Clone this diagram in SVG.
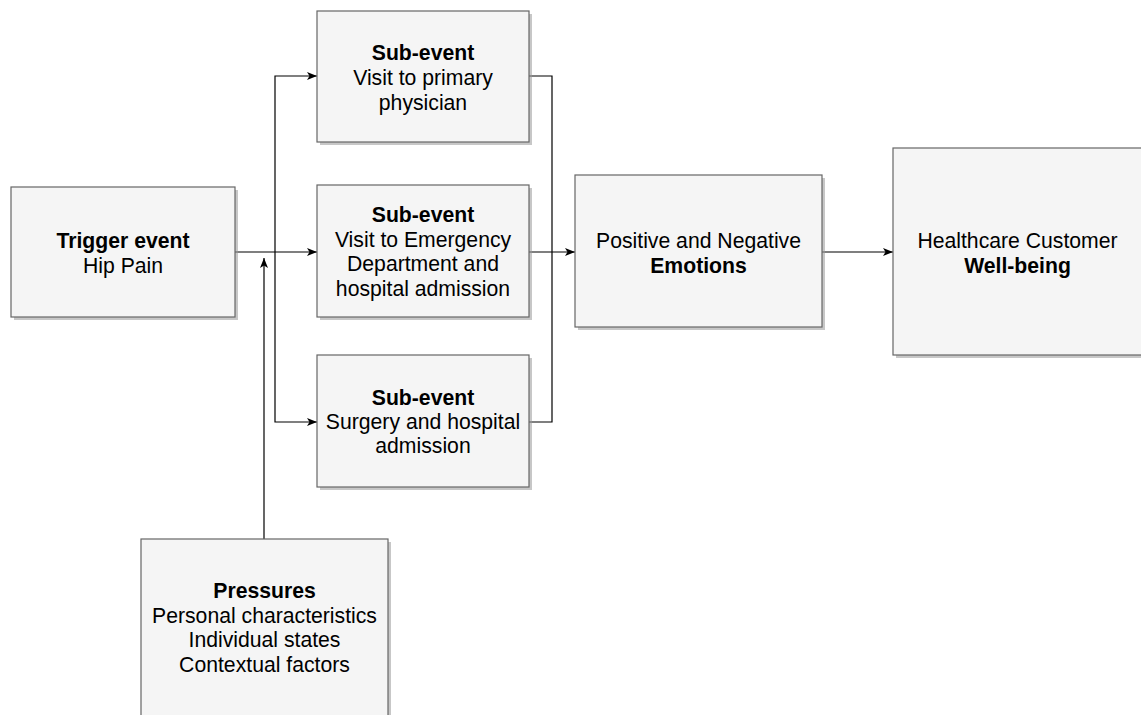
<svg xmlns="http://www.w3.org/2000/svg" width="1141" height="715" viewBox="0 0 1141 715">
<style>
.box{fill:#f5f5f5;stroke:#666666;stroke-width:1.2}
.sh{fill:#999999;opacity:0.55}
.t{font-family:"Liberation Sans",Arial,sans-serif;font-size:21.2px;fill:#000;text-anchor:middle}
.b{font-weight:bold}
.c{fill:none;stroke:#000;stroke-width:1.2}
</style>
<defs>
<marker id="ah" viewBox="0 0 10 8" refX="10" refY="4" markerWidth="10" markerHeight="8" markerUnits="userSpaceOnUse" orient="auto">
<path d="M0,0 L10,4 L0,8 L2.5,4 z" fill="#000"/>
</marker>
</defs>
<rect width="1141" height="715" fill="#ffffff"/>
<g id="connectors">
<path class="c" d="M235,252 L317,252" marker-end="url(#ah)"/>
<path class="c" d="M275,252 L275,76 L317,76" marker-end="url(#ah)"/>
<path class="c" d="M275,252 L275,422 L317,422" marker-end="url(#ah)"/>
<path class="c" d="M264,539 L264,258" marker-end="url(#ah)"/>
<path class="c" d="M529,76 L552,76 L552,422 L529,422"/>
<path class="c" d="M529,252 L575,252" marker-end="url(#ah)"/>
<path class="c" d="M822,252 L893,252" marker-end="url(#ah)"/>
</g>
<g id="trigger">
<rect class="sh" x="14" y="190" width="224" height="130"/>
<rect class="box" x="11" y="187" width="224" height="130"/>
<text class="t b" x="123" y="248">Trigger event</text>
<text class="t" x="123" y="273">Hip Pain</text>
</g>
<g id="sub1">
<rect class="sh" x="320" y="14" width="212" height="131"/>
<rect class="box" x="317" y="11" width="212" height="131"/>
<text class="t b" x="423" y="60">Sub-event</text>
<text class="t" x="423" y="85">Visit to primary</text>
<text class="t" x="423" y="110">physician</text>
</g>
<g id="sub2">
<rect class="sh" x="320" y="188" width="212" height="132"/>
<rect class="box" x="317" y="185" width="212" height="132"/>
<text class="t b" x="423" y="222">Sub-event</text>
<text class="t" x="423" y="246.5">Visit to Emergency</text>
<text class="t" x="423" y="271">Department and</text>
<text class="t" x="423" y="295.5">hospital admission</text>
</g>
<g id="sub3">
<rect class="sh" x="320" y="358" width="212" height="132"/>
<rect class="box" x="317" y="355" width="212" height="132"/>
<text class="t b" x="423" y="405">Sub-event</text>
<text class="t" x="423" y="429">Surgery and hospital</text>
<text class="t" x="423" y="453">admission</text>
</g>
<g id="emotions">
<rect class="sh" x="578" y="178" width="247" height="152"/>
<rect class="box" x="575" y="175" width="247" height="152"/>
<text class="t" x="698.5" y="248">Positive and Negative</text>
<text class="t b" x="698.5" y="273">Emotions</text>
</g>
<g id="wellbeing">
<rect class="sh" x="896" y="151" width="249" height="207"/>
<rect class="box" x="893" y="148" width="249" height="207"/>
<text class="t" x="1017.5" y="248">Healthcare Customer</text>
<text class="t b" x="1017.5" y="273">Well-being</text>
</g>
<g id="pressures">
<rect class="sh" x="144" y="542" width="247" height="178"/>
<rect class="box" x="141" y="539" width="247" height="178"/>
<text class="t b" x="264.5" y="598">Pressures</text>
<text class="t" x="264.5" y="623">Personal characteristics</text>
<text class="t" x="264.5" y="647">Individual states</text>
<text class="t" x="264.5" y="672">Contextual factors</text>
</g>
</svg>
